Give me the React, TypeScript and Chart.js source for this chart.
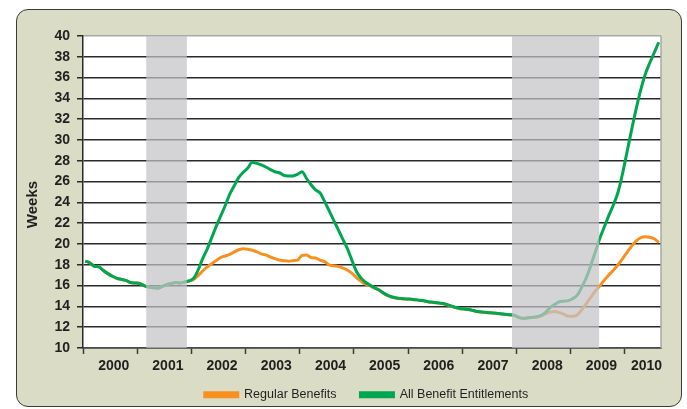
import React, { useEffect, useRef } from "react";
import { Chart, registerables } from "chart.js";

Chart.register(...registerables);

// Monthly data, Jan 2000 .. Aug 2010 (index 0 = Jan 2000)
const years = ["2000", "2001", "2002", "2003", "2004", "2005", "2006", "2007", "2008", "2009", "2010"];
const monthsShown = 128;

const allBenefitEntitlements = [
  18.35, 18.2, 17.85, 17.8, 17.45, 17.15, 16.9, 16.7, 16.6, 16.5, 16.3, 16.25,
  16.2, 16.0, 15.85, 15.8, 15.75, 15.9, 16.1, 16.2, 16.3, 16.25, 16.35, 16.45,
  16.7, 17.5, 18.6, 19.5, 20.6, 21.7, 22.7, 23.7, 24.8, 25.6, 26.4, 26.9,
  27.3, 27.85, 27.75, 27.6, 27.4, 27.15, 26.95, 26.85, 26.6, 26.55, 26.55, 26.7,
  26.95, 26.3, 25.7, 25.2, 24.9, 24.1, 23.2, 22.3, 21.4, 20.5, 19.6, 18.5,
  17.4, 16.75, 16.35, 16.05, 15.8, 15.6, 15.3, 15.05, 14.9, 14.8, 14.75, 14.72,
  14.7, 14.65, 14.6, 14.55, 14.45, 14.4, 14.35, 14.3, 14.2, 14.05, 13.9, 13.8,
  13.75, 13.7, 13.6, 13.5, 13.45, 13.42, 13.38, 13.35, 13.3, 13.25, 13.2, 13.15,
  12.95, 12.85, 12.9, 12.95, 13.0, 13.15, 13.45, 13.9, 14.2, 14.45, 14.5, 14.55,
  14.75, 15.1, 15.9, 16.8, 18.0, 19.3, 20.6, 21.7, 22.8, 23.8, 25.0, 26.8,
  28.9, 31.0, 33.0, 34.8, 36.3, 37.4, 38.4, 39.4,
];

const regularBenefits = [
  18.35, 18.2, 17.85, 17.8, 17.45, 17.15, 16.9, 16.7, 16.6, 16.5, 16.3, 16.25,
  16.2, 16.0, 15.85, 15.8, 15.75, 15.9, 16.1, 16.2, 16.3, 16.25, 16.35, 16.45,
  16.6, 16.95, 17.4, 17.8, 18.1, 18.4, 18.7, 18.85, 19.0, 19.25, 19.45, 19.55,
  19.5, 19.4, 19.25, 19.05, 18.95, 18.75, 18.6, 18.45, 18.4, 18.35, 18.4, 18.45,
  18.9, 18.95, 18.7, 18.65, 18.45, 18.3, 18.0, 17.9, 17.85, 17.7, 17.5, 17.2,
  16.8, 16.45, 16.15, 16.0, 15.78, 15.58, 15.28, 15.03, 14.88, 14.78, 14.73, 14.7,
  14.68, 14.63, 14.58, 14.53, 14.43, 14.38, 14.33, 14.28, 14.18, 14.03, 13.88, 13.78,
  13.73, 13.68, 13.58, 13.48, 13.43, 13.4, 13.36, 13.33, 13.28, 13.23, 13.18, 13.13,
  12.93, 12.83, 12.88, 12.93, 12.98, 13.1, 13.3, 13.45, 13.5, 13.4, 13.25, 13.05,
  13.05, 13.2, 13.7, 14.3, 14.9, 15.5, 16.0, 16.55, 17.05, 17.5, 18.0, 18.6,
  19.2, 19.8, 20.3, 20.6, 20.7, 20.65, 20.5, 20.15,
];

// Recession periods, in months from Jan 2000
const recessionStart = [14, 95];
const recessionEnd = [23, 114.3];

const FONT = "'Liberation Sans', Arial, sans-serif";
const GREEN = "#00a650";
const ORANGE = "#f7901e";
const TEXT = "#231f20";

export default function App() {
  const ref = useRef<HTMLCanvasElement>(null);

  useEffect(() => {
    const canvas = ref.current!;
    const yearTickPos = years.map((_, k) => Math.min(k * 12 + 6, (k * 12 + monthsShown) / 2) + 0.8);
    const boundaryTicks = years.map((_, k) => k * 12);

    const plotBg = {
      id: "plotBg",
      beforeDraw(chart: any) {
        const { ctx, chartArea: a } = chart;
        ctx.save();
        ctx.fillStyle = "#ffffff";
        ctx.fillRect(a.left, a.top, a.right - a.left, a.bottom - a.top);
        ctx.restore();
      },
      beforeDatasetsDraw(chart: any) {
        const { ctx, chartArea: a } = chart;
        ctx.save();
        ctx.strokeStyle = "#a9a9a9";
        ctx.lineWidth = 1.5;
        ctx.beginPath();
        ctx.moveTo(a.right, a.top);
        ctx.lineTo(a.right, a.bottom);
        ctx.stroke();
        ctx.restore();
      },
    };

    const recession = {
      id: "recession",
      afterDatasetsDraw(chart: any) {
        const { ctx, chartArea: a, scales } = chart;
        ctx.save();
        ctx.fillStyle = "rgba(195,195,200,0.72)";
        recessionStart.forEach((s, i) => {
          const x0 = scales.x.getPixelForValue(s);
          const x1 = scales.x.getPixelForValue(recessionEnd[i]);
          ctx.fillRect(x0, a.top, x1 - x0, a.bottom - a.top);
        });
        ctx.restore();
      },
    };

    // nudge the legend block: right to sit under the plot, up to its place
    const legendShift = {
      id: "legendShift",
      afterLayout(chart: any) {
        const l = chart.legend;
        if (l) {
          l.left += 36;
          l.right += 36;
          l.top -= 12.5;
          l.bottom -= 12.5;
        }
      },
    };

    const idx = Array.from({ length: monthsShown }, (_, i) => i + 0.5);

    const chart = new Chart(canvas, {
      type: "line",
      data: {
        datasets: [
          {
            label: "Regular Benefits",
            data: regularBenefits.map((v, i) => ({ x: idx[i], y: v })),
            borderColor: ORANGE,
            backgroundColor: ORANGE,
            borderWidth: 3,
            pointRadius: 0,
            cubicInterpolationMode: "monotone",
            order: 1,
          },
          {
            label: "All Benefit Entitlements",
            data: allBenefitEntitlements.map((v, i) => ({ x: idx[i], y: v })),
            borderColor: GREEN,
            backgroundColor: GREEN,
            borderWidth: 3,
            pointRadius: 0,
            cubicInterpolationMode: "monotone",
            order: 0,
          },
        ],
      },
      options: {
        animation: false,
        responsive: false,
        maintainAspectRatio: false,
        layout: { padding: { top: 36, right: 26, bottom: -14.5, left: 0 } },
        font: { family: FONT },
        plugins: {
          tooltip: { enabled: false },
          legend: {
            position: "bottom",
            labels: {
              boxWidth: 33,
              boxHeight: 4,
              padding: 24,
              color: TEXT,
              font: { family: FONT, size: 12.5 },
              sort: (a: any, b: any) => a.datasetIndex - b.datasetIndex,
            },
          },
        },
        scales: {
          x: {
            type: "linear",
            min: 0,
            max: monthsShown,
            afterBuildTicks(scale: any) {
              const t = [
                ...boundaryTicks.map((v) => ({ value: v })),
                ...yearTickPos.map((v) => ({ value: v })),
              ].sort((p, q) => p.value - q.value);
              scale.ticks = t;
            },
            afterFit(scale: any) {
              scale.height = 29;
            },
            ticks: {
              autoSkip: false,
              maxRotation: 0,
              padding: 4,
              color: TEXT,
              font: { family: FONT, size: 14, weight: "bold" },
              callback: (v: any) => {
                const k = yearTickPos.findIndex((p) => Math.abs(p - v) < 1e-6);
                return k >= 0 ? years[k] : "";
              },
            },
            grid: {
              drawOnChartArea: false,
              tickLength: 6,
              tickWidth: 1.5,
              tickColor: (ctx: any) =>
                ctx.tick && boundaryTicks.includes(ctx.tick.value) ? "#3a3a3a" : "rgba(0,0,0,0)",
            },
            border: { color: "#4a4a4a", width: 1.5 },
          },
          y: {
            min: 10,
            max: 40,
            afterFit(scale: any) {
              scale.width = 83;
            },
            ticks: {
              stepSize: 2,
              autoSkip: false,
              padding: 7,
              color: TEXT,
              font: { family: FONT, size: 14, weight: "bold" },
            },
            grid: {
              color: (ctx: any) => (ctx.tick && ctx.tick.value === 40 ? "#a9a9a9" : "#2a2a2a"),
              lineWidth: 1.5,
              tickLength: 6,
              tickColor: "#2a2a2a",
            },
            border: { color: "#2a2a2a", width: 1.5 },
            title: {
              display: true,
              text: "Weeks      ",
              color: TEXT,
              font: { family: FONT, size: 15, weight: "bold" },
              padding: { top: 24, bottom: 0 },
            },
          },
        },
      },
      plugins: [plotBg, recession, legendShift],
    } as any);

    return () => chart.destroy();
  }, []);

  return (
    <div style={{ position: "fixed", left: 0, top: 0, width: 687, height: 409, background: "#ffffff" }}>
      <div
        style={{
          position: "absolute",
          left: 16,
          top: 9,
          width: 664,
          height: 396,
          border: "1.5px solid #3a3a3a",
          borderRadius: 12,
          background: "#dadcc5",
        }}
      />
      <canvas ref={ref} width={687} height={409} style={{ position: "absolute", left: 0, top: 0 }} />
    </div>
  );
}
